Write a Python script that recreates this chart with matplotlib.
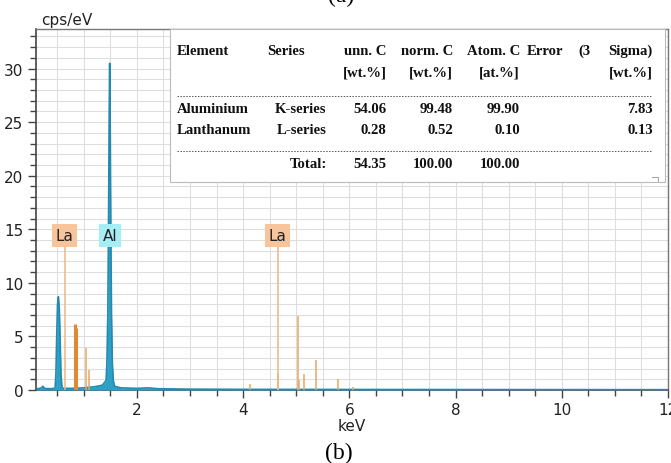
import matplotlib
matplotlib.use("Agg")
import matplotlib.pyplot as plt
from matplotlib.ticker import MultipleLocator

# Data ===========================================
# blue spectrum, vertices (keV, cps/eV)
energy = [0.10, 0.15, 0.20, 0.23, 0.26, 0.35, 0.44,
          0.46, 0.475, 0.49, 0.505, 0.522, 0.54, 0.555, 0.57, 0.59,
          0.62, 0.80, 1.00, 1.20, 1.35, 1.42,
          1.435, 1.452, 1.465, 1.477, 1.487, 1.497, 1.509, 1.522, 1.538, 1.555, 1.58,
          1.70, 2.00, 2.20, 2.40, 3.00, 4.00, 6.00, 8.00, 12.0]
counts = [0.15, 0.12, 0.20, 0.35, 0.15, 0.12, 0.15,
          0.2, 1.5, 5.0, 8.0, 8.7, 7.5, 4.5, 1.5, 0.2,
          0.15, 0.15, 0.20, 0.30, 0.45, 0.9,
          2.5, 7.0, 15.0, 25.0, 30.5, 25.0, 15.0, 7.0, 2.5, 0.9, 0.35,
          0.20, 0.15, 0.20, 0.12, 0.08, 0.06, 0.05, 0.04, 0.03]

# La line markers
la_thick_e = [0.83, 0.855]
la_thick_h = [6.2, 5.8]
la_thin_e = [1.04, 1.10, 4.13, 4.65, 5.04, 5.06, 5.14, 5.38, 5.79, 6.07]
la_thin_h = [3.9, 1.85, 0.6, 1.6, 6.9, 0.9, 1.5, 2.8, 1.0, 0.3]

# peak labels
label_text = ['La', 'Al', 'La']
label_e = [0.64, 1.49, 4.65]
label_fc = ['#f8c49c', '#a6eef5', '#f8c49c']
stem_e = [0.64, 4.65]

# quantification table
elements = ['Aluminium', 'Lanthanum']
series = ['K-series', 'L-series']
unn_c = ['54.06', '0.28']
norm_c = ['99.48', '0.52']
atom_c = ['99.90', '0.10']
error = ['7.83', '0.13']
totals = ['54.35', '100.00', '100.00']

# General ========================================
W, H = 671, 464
fig = plt.figure(figsize=(W / 100, H / 100), dpi=100)

def fx(px):
    return px / W

def fy(py):
    return 1 - py / H

ax = fig.add_axes([fx(36), fy(391), (668 - 36) / W, (391 - 30) / H])

# Spectrum =======================================
ax.fill_between(energy, counts, 0, color='#2e9fc5', lw=0, zorder=3)
ax.plot(energy, counts, color='#2589b0', lw=1.2, zorder=3)

ax.vlines(la_thin_e, 0, la_thin_h, color='#e6a864', lw=1.1, zorder=4)
ax.vlines(la_thick_e, 0, la_thick_h, color='#dc8a36', lw=2.2, zorder=4)
ax.vlines(stem_e, 0, 13.55, color='#ebb885', lw=1.1, zorder=4)

for t, e, c in zip(label_text, label_e, label_fc):
    ax.text(e, 14.45, t, ha='center', va='center', fontsize=11, color='#222222',
            zorder=6, bbox=dict(boxstyle='square,pad=0.25', fc=c, ec='none'))

# Axes ===========================================
ax.set_xlim(0.1, 12)
ax.set_ylim(0, 33.7)
ax.xaxis.set_major_locator(MultipleLocator(2))
ax.xaxis.set_minor_locator(MultipleLocator(0.5))
ax.yaxis.set_major_locator(MultipleLocator(5))
ax.yaxis.set_minor_locator(MultipleLocator(1))
ax.grid(which='both', color='#dedede', lw=0.8, zorder=0)
ax.set_axisbelow(True)
ax.tick_params(which='major', direction='out', length=6, width=1, color='#444444',
               labelsize=11, labelcolor='#222222', pad=3)
ax.tick_params(which='minor', direction='out', length=4, width=1, color='#444444')
for s in ['left', 'bottom']:
    ax.spines[s].set_color('#444444')
    ax.spines[s].set_linewidth(1.2)
for s in ['top', 'right']:
    ax.spines[s].set_color('#777777')
    ax.spines[s].set_linewidth(1.0)

fig.text(fx(41), fy(25), 'cps/eV', fontsize=11, color='#222222', va='baseline')
fig.text(fx(352), fy(427), 'keV', fontsize=11, color='#222222', ha='center', va='center')
fig.text(fx(339), fy(453), '(b)', fontsize=17, family='Liberation Serif',
         ha='center', va='center')
fig.text(fx(341), fy(-4), '(a)', fontsize=17, family='Liberation Serif',
         ha='center', va='center')

# Table ==========================================
box = plt.Rectangle((fx(170), fy(183)), fx(665) - fx(170), fy(30) - fy(183),
                    transform=fig.transFigure, fc='white', ec='#bbbbbb', lw=0.8,
                    zorder=5)
fig.patches.append(box)
fig.add_artist(plt.Line2D([fx(652), fx(658), fx(658)], [fy(178), fy(178), fy(182)],
                          transform=fig.transFigure, color='#aaaaaa', lw=0.8,
                          zorder=6))

tk = dict(fontsize=10.6, family='Liberation Serif', weight='bold', color='#111111',
          va='center', zorder=7)
col_r = [fx(386.7), fx(453), fx(520), fx(652.7)]

fig.text(fx(177), fy(51.7), 'Element', **tk)
fig.text(fx(266.7), fy(51.7), 'Series', **tk)
for x, s in zip(col_r[:3], ['unn. C', 'norm. C', 'Atom. C']):
    fig.text(x, fy(51.7), s, ha='right', **tk)
fig.text(fx(527), fy(51.7), 'Error', **tk)
fig.text(fx(578), fy(51.7), '(3', **tk)
fig.text(col_r[3], fy(51.7), 'Sigma)', ha='right', **tk)
for x, s in zip(col_r, ['[wt.%]', '[wt.%]', '[at.%]', '[wt.%]']):
    fig.text(x, fy(73.3), s, ha='right', **tk)

for i, row_y in enumerate([109.3, 130]):
    fig.text(fx(177), fy(row_y), elements[i], **tk)
    fig.text(fx(326.7), fy(row_y), series[i], ha='right', **tk)
    for x, s in zip(col_r, [unn_c[i], norm_c[i], atom_c[i], error[i]]):
        fig.text(x, fy(row_y), s, ha='right', **tk)

fig.text(fx(326.7), fy(164), 'Total:', ha='right', **tk)
for x, s in zip(col_r[:3], totals):
    fig.text(x, fy(164), s, ha='right', **tk)

for ly in [96.7, 151.7]:
    fig.add_artist(plt.Line2D([fx(177), fx(652)], [fy(ly), fy(ly)],
                              transform=fig.transFigure, color='#555555',
                              lw=0.7, ls=(0, (1.5, 1.5)), zorder=7))

fig.savefig('out.png', dpi=100)
